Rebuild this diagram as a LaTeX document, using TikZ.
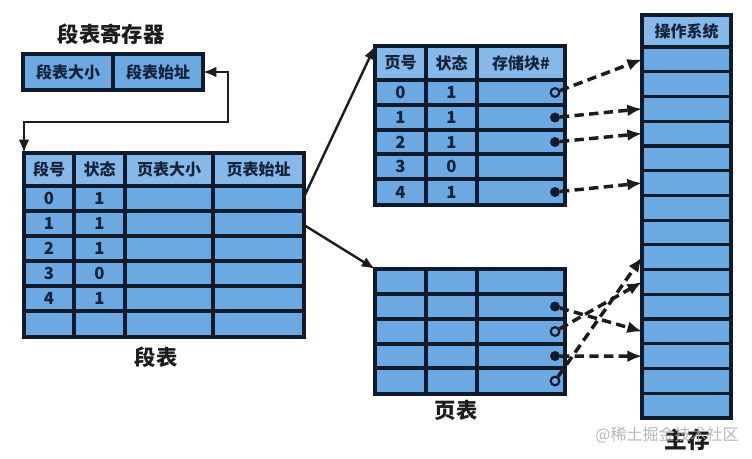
\documentclass[tikz,border=0pt]{standalone}
\usepackage{fontspec}
\newfontfamily\cjk{Noto Sans CJK SC}
\usetikzlibrary{arrows.meta}
\definecolor{cellblue}{HTML}{6CA8E2}
\definecolor{headblue}{HTML}{86B8EA}
\definecolor{gridc}{HTML}{0F1A2C}
\definecolor{txt}{HTML}{15233A}
\definecolor{ink}{HTML}{1C1C1C}
\tikzset{
  gridline/.style={draw=gridc, line width=2.4pt},
  frame/.style={draw=gridc, line width=2.6pt},
  cell/.style={font=\cjk\bfseries\fontsize{12}{12}\selectfont, text=txt, inner sep=0pt},
  num/.style={font=\cjk\bfseries\fontsize{12.5}{12.5}\selectfont, text=txt, inner sep=0pt},
  title/.style={font=\cjk\bfseries\fontsize{16}{16}\selectfont, text=ink, inner sep=0pt},
  fulldot/.style={circle, fill=gridc, draw=gridc, minimum size=7pt, inner sep=0pt},
  opendot/.style={circle, fill=cellblue, draw=gridc, line width=1.6pt, minimum size=6.5pt, inner sep=0pt},
  link/.style={draw=ink, line width=1.8pt, -{Latex[length=10pt,width=8pt]}},
  maplink/.style={draw=ink, line width=2.6pt, dash pattern=on 7pt off 4pt, -{Latex[length=11pt,width=9pt]}},
}
\begin{document}
\begin{tikzpicture}[x=0.75pt,y=-0.75pt]
\useasboundingbox (0,0) rectangle (752,458);
\fill[white] (0,0) rectangle (752,458);

% ---------- segment register ----------
\node[title] (regtitle) at (111,34) {段表寄存器};
\fill[cellblue] (23,54) rectangle (203,90);
\draw[gridline] (113,54) -- (113,90);
\draw[frame] (23,54) rectangle (203,90);
\node[cell] (regsize) at (68,72) {段表大小};
\node[cell] (regaddr) at (158,72) {段表始址};
\coordinate (regR) at (203,72);

% ---------- segment table ----------
\fill[cellblue] (24,153) rectangle (304,337);
\fill[headblue] (24,153) rectangle (304,186);
\foreach \y in {186,211,236,261,286,311} \draw[gridline] (24,\y) -- (304,\y);
\foreach \x in {74,125,213} \draw[gridline] (\x,153) -- (\x,337);
\draw[frame] (24,153) rectangle (304,337);
\coordinate (segTL) at (24,153);
\node[cell] (sh1) at (49,169.5) {段号};
\node[cell] (sh2) at (99.5,169.5) {状态};
\node[cell] (sh3) at (169,169.5) {页表大小};
\node[cell] (sh4) at (258.5,169.5) {页表始址};
\foreach \n/\s/\y in {0/1/198.5,1/1/223.5,2/1/248.5,3/0/273.5,4/1/298.5}{
  \node[num] (sn\n) at (49,\y) {\n};
  \node[num] (ss\n) at (99.5,\y) {\s};
}
\coordinate (seg0R) at (304,197);
\coordinate (seg1R) at (304,225);
\node[title] (segtitle) at (156,357) {段表};

% ---------- page table 1 ----------
\fill[cellblue] (375,46) rectangle (565,205);
\fill[headblue] (375,46) rectangle (565,80);
\foreach \y in {80,105,130,154,179} \draw[gridline] (375,\y) -- (565,\y);
\foreach \x in {426,477} \draw[gridline] (\x,46) -- (\x,205);
\draw[frame] (375,46) rectangle (565,205);
\coordinate (pt1TL) at (375,46);
\node[cell] (ph1) at (400.5,63) {页号};
\node[cell] (ph2) at (451.5,63) {状态};
\node[cell] (ph3) at (521,63) {存储块\#};
\foreach \n/\s/\y in {0/1/92.5,1/1/117.5,2/1/142,3/0/166.5,4/1/192}{
  \node[num] (pn\n) at (400.5,\y) {\n};
  \node[num] (ps\n) at (451.5,\y) {\s};
}
\node[opendot] (d10) at (555,92.5) {};
\node[fulldot] (d11) at (555,117.5) {};
\node[fulldot] (d12) at (555,142) {};
\node[fulldot] (d14) at (555,192) {};

% ---------- page table 2 ----------
\fill[cellblue] (375,269) rectangle (565,394);
\foreach \y in {294,319,344,368} \draw[gridline] (375,\y) -- (565,\y);
\foreach \x in {426,477} \draw[gridline] (\x,269) -- (\x,394);
\draw[frame] (375,269) rectangle (565,394);
\coordinate (pt2TL) at (375,269);
\node[fulldot] (d21) at (555,306.5) {};
\node[opendot] (d22) at (555,331.5) {};
\node[fulldot] (d23) at (555,356) {};
\node[opendot] (d24) at (555,381) {};
\node[title] (pttitle) at (456,410) {页表};

% ---------- main memory ----------
\fill[cellblue] (642,15) rectangle (731,418);
\fill[headblue] (642,15) rectangle (731,47);
\foreach \i in {0,...,14} \draw[gridline] (642,{47+24.733*\i}) -- (731,{47+24.733*\i});
\draw[frame] (642,15) rectangle (731,418);
\node[cell] (os) at (686.5,31) {操作系统};
\foreach \i in {1,...,15} \coordinate (m\i) at (642,{47+24.733*(\i-0.5)});
\node[title, font=\cjk\bfseries\fontsize{17}{17}\selectfont] (memtitle) at (687,440) {主存};
\node[inner sep=0pt, text=gray!70, opacity=0.8, font=\cjk\fontsize{12}{12}\selectfont] (wm) at (667,435) {@稀土掘金技术社区};

% ---------- connectors ----------
\draw[draw=ink, line width=1.8pt, {Latex[length=10pt,width=8pt]}-{Latex[length=10pt,width=8pt]}]
  (regR) -- (228,72) -- (228,122) -- (24,122) -- (segTL);
\draw[link] (seg0R) -- (pt1TL);
\draw[link] (seg1R) -- (pt2TL);

\draw[maplink] (d10) -- (m1);
\draw[maplink] (d11) -- (m3);
\draw[maplink] (d12) -- (m4);
\draw[maplink] (d14) -- (m6);
\draw[maplink] (d21) -- (m12);
\draw[maplink] (d22) -- (m10);
\draw[maplink] (d23) -- (m13);
\draw[maplink] (d24) -- (m9);
\end{tikzpicture}
\end{document}
